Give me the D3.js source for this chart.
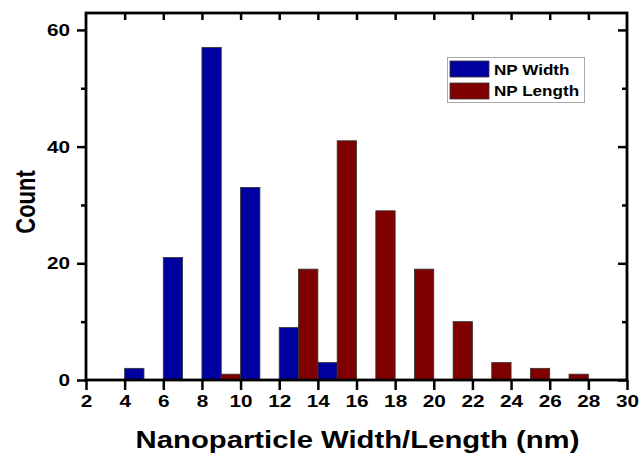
<!DOCTYPE html>
<html><head><meta charset="utf-8">
<script src="https://cdn.jsdelivr.net/npm/d3@7"></script>
<style>body{margin:0;background:#fff}</style>
</head><body>
<svg id="c" width="641" height="459"></svg>
<script>
const binStart = [4,6,8,10,12,14,16,18,20,22,24,26];
const widthCounts = [2,21,57,33,9,3,0,0,0,0,0,0];
const lengthCounts = [0,0,1,0,19,41,29,19,10,3,2,1];
const seriesNames = ["NP Width","NP Length"];
const seriesColors = ["#0000A0","#800000"];
const xTicks = [2,4,6,8,10,12,14,16,18,20,22,24,26,28,30];
const yTicks = [0,20,40,60];
const yMinor = [10,30,50];

const svg = d3.select("#c");
const L=86, R=627, T=13, B=380;
const STRETCH = 1.22;
const x = d3.scaleLinear().domain([2,30]).range([L,R]);
const y = d3.scaleLinear().domain([0,62.9]).range([B,T]);
const font = "'Liberation Sans', Arial, sans-serif";

function stretch(sel){
  sel.each(function(){
    const len = this.getComputedTextLength();
    d3.select(this).attr("textLength", len*STRETCH).attr("lengthAdjust","spacingAndGlyphs");
  });
}

const g = svg.append("g");
const series = [widthCounts, lengthCounts];
series.forEach((vals, si) => {
  g.selectAll(null).data(binStart.map((b,i)=>({b, v: vals[i]})).filter(d=>d.v>0))
   .enter().append("rect")
   .attr("x", d=>x(d.b+si))
   .attr("width", d=>x(d.b+si+1)-x(d.b+si))
   .attr("y", d=>y(d.v))
   .attr("height", d=>y(0)-y(d.v))
   .attr("fill", seriesColors[si])
   .attr("stroke", "#333")
   .attr("stroke-width", 0.8);
});

const gb = svg.append("g").attr("transform",`translate(0,${B})`).call(d3.axisBottom(x).tickValues(xTicks).tickSize(10).tickPadding(5));
const gl = svg.append("g").attr("transform",`translate(${L},0)`).call(d3.axisLeft(y).tickValues(yTicks).tickSize(9).tickPadding(7));
const glm = svg.append("g").attr("transform",`translate(${L},0)`).call(d3.axisLeft(y).tickValues(yMinor).tickSize(5).tickFormat(""));
const gt = svg.append("g").attr("transform",`translate(0,${T})`).call(d3.axisBottom(x).tickValues(xTicks.slice(1,-1)).tickSize(7).tickFormat(""));
const gr = svg.append("g").attr("transform",`translate(${R},0)`).call(d3.axisLeft(y).tickValues(yTicks).tickSize(9).tickFormat(""));
const grm = svg.append("g").attr("transform",`translate(${R},0)`).call(d3.axisLeft(y).tickValues(yMinor).tickSize(5).tickFormat(""));
[gb,gl,glm,gt,gr,grm].forEach(a=>{
  a.select(".domain").remove();
  a.selectAll(".tick line").attr("stroke","#000").attr("stroke-width",2.5);
  a.selectAll("text").attr("font-family",font).attr("font-weight","bold").attr("font-size",17).attr("fill","#000").call(stretch);
});
svg.append("rect").attr("x",L).attr("y",T).attr("width",R-L).attr("height",B-T)
  .attr("fill","none").attr("stroke","#000").attr("stroke-width",2.8);

svg.append("text").attr("x",357.5).attr("y",448).attr("text-anchor","middle")
  .attr("font-family",font).attr("font-weight","bold").attr("font-size",24)
  .text("Nanoparticle Width/Length (nm)").call(stretch);
svg.append("text").attr("transform",`translate(35,202) scale(${STRETCH},1) rotate(-90)`).attr("text-anchor","middle")
  .attr("font-family",font).attr("font-weight","bold").attr("font-size",22).text("Count");

const lg = svg.append("g");
lg.append("rect").attr("x",447.5).attr("y",57.5).attr("width",137).attr("height",45)
  .attr("fill","#fff").attr("stroke","#aaa").attr("stroke-width",1);
seriesNames.forEach((n,i)=>{
  lg.append("rect").attr("x",450).attr("y",61+i*22).attr("width",39).attr("height",16)
    .attr("fill",seriesColors[i]).attr("stroke","#333").attr("stroke-width",0.8);
  lg.append("text").attr("x",494).attr("y",75+i*21).attr("font-family",font)
    .attr("font-weight","bold").attr("font-size",14).text(n).call(stretch);
});
</script>
</body></html>
